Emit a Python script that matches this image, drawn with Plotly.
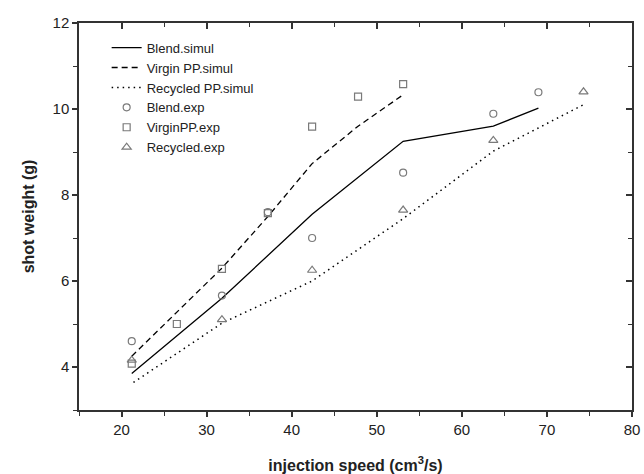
import plotly.graph_objects as go

# simulation curves
blend_sim_x = [21.2, 31.8, 42.4, 53.1, 63.7, 69.0]
blend_sim_y = [3.85, 5.6, 7.55, 9.25, 9.6, 10.02]
virgin_sim_x = [21.2, 26.5, 31.8, 37.2, 42.4, 47.8, 53.1]
virgin_sim_y = [4.25, 5.28, 6.3, 7.5, 8.73, 9.6, 10.33]
recycled_sim_x = [21.4, 31.8, 42.4, 53.1, 63.7, 74.3]
recycled_sim_y = [3.64, 5.02, 6.0, 7.45, 9.02, 10.1]

# experimental points
blend_exp_x = [21.2, 31.8, 37.2, 42.4, 53.1, 63.7, 69.0]
blend_exp_y = [4.6, 5.66, 7.6, 7.0, 8.52, 9.89, 10.39]
virgin_exp_x = [21.2, 26.5, 31.8, 37.2, 42.4, 47.8, 53.1]
virgin_exp_y = [4.08, 5.0, 6.28, 7.58, 9.59, 10.29, 10.58]
recycled_exp_x = [21.2, 31.8, 42.4, 53.1, 63.7, 74.3]
recycled_exp_y = [4.16, 5.1, 6.25, 7.65, 9.27, 10.4]

x_tickvals = [20, 30, 40, 50, 60, 70, 80]
y_tickvals = [4, 6, 8, 10, 12]

FONT = "Liberation Sans, Arial, sans-serif"
GRAY = "#7a7a7a"
AX = "#333333"

fig = go.Figure()
fig.add_trace(go.Scatter(x=blend_sim_x, y=blend_sim_y, mode="lines", name="Blend.simul",
                         line=dict(color="black", width=1.3, dash="solid")))
fig.add_trace(go.Scatter(x=virgin_sim_x, y=virgin_sim_y, mode="lines", name="Virgin PP.simul",
                         line=dict(color="black", width=1.3, dash="6px,4px")))
fig.add_trace(go.Scatter(x=recycled_sim_x, y=recycled_sim_y, mode="lines", name="Recycled PP.simul",
                         line=dict(color="black", width=1.5, dash="1.5px,4px")))
fig.add_trace(go.Scatter(x=blend_exp_x, y=blend_exp_y, mode="markers", name="Blend.exp",
                         marker=dict(symbol="circle-open", size=7, color=GRAY, line=dict(width=1.2))))
fig.add_trace(go.Scatter(x=virgin_exp_x, y=virgin_exp_y, mode="markers", name="VirginPP.exp",
                         marker=dict(symbol="square-open", size=7, color=GRAY, line=dict(width=1.2))))
fig.add_trace(go.Scatter(x=recycled_exp_x, y=recycled_exp_y, mode="markers", name="Recycled.exp",
                         marker=dict(symbol="triangle-up-open", size=8, color=GRAY, line=dict(width=1.2))))
# empty trace to activate mirrored top/right axes
fig.add_trace(go.Scatter(x=[], y=[], xaxis="x2", yaxis="y2", showlegend=False, hoverinfo="skip"))

axis_common = dict(showgrid=False, zeroline=False, showline=True, linecolor=AX, linewidth=1.5,
                   tickcolor=AX, tickwidth=1.5, automargin=False)

fig.update_layout(
    width=644, height=474,
    margin=dict(l=79, r=12, t=23, b=64),
    paper_bgcolor="white", plot_bgcolor="white",
    font=dict(family=FONT, size=15, color="#222"),
    showlegend=True,
    legend=dict(x=0.05, y=0.975, xanchor="left", yanchor="top", bgcolor="rgba(0,0,0,0)",
                font=dict(size=13, family=FONT, color="#222"), tracegroupgap=0, itemwidth=30),
    xaxis=dict(range=[15, 80], tickvals=x_tickvals, ticks="outside", ticklen=5,
               tickfont=dict(size=15, family=FONT),
               minor=dict(dtick=5, tick0=0, ticks="outside", ticklen=4, tickcolor=AX, tickwidth=1.2),
               title=dict(text="<b>injection speed (cm<sup>3</sup>/s)</b>",
                          font=dict(size=16, family=FONT), standoff=26),
               **axis_common),
    yaxis=dict(range=[3, 12], tickvals=y_tickvals, ticks="outside", ticklen=5,
               tickfont=dict(size=15, family=FONT),
               minor=dict(dtick=1, tick0=0, ticks="outside", ticklen=4, tickcolor=AX, tickwidth=1.2),
               title=dict(text="<b>shot weight (g)</b>", font=dict(size=16, family=FONT), standoff=14),
               **axis_common),
    xaxis2=dict(range=[15, 80], overlaying="x", side="top", anchor="y", tickvals=x_tickvals,
                ticks="inside", ticklen=6, showticklabels=False,
                minor=dict(dtick=5, tick0=0, ticks="inside", ticklen=4, tickcolor=AX, tickwidth=1.2),
                **axis_common),
    yaxis2=dict(range=[3, 12], overlaying="y", side="right", anchor="x", tickvals=y_tickvals,
                ticks="inside", ticklen=6, showticklabels=False,
                minor=dict(dtick=1, tick0=0, ticks="inside", ticklen=4, tickcolor=AX, tickwidth=1.2),
                **axis_common),
)

fig.write_html("out.html")
